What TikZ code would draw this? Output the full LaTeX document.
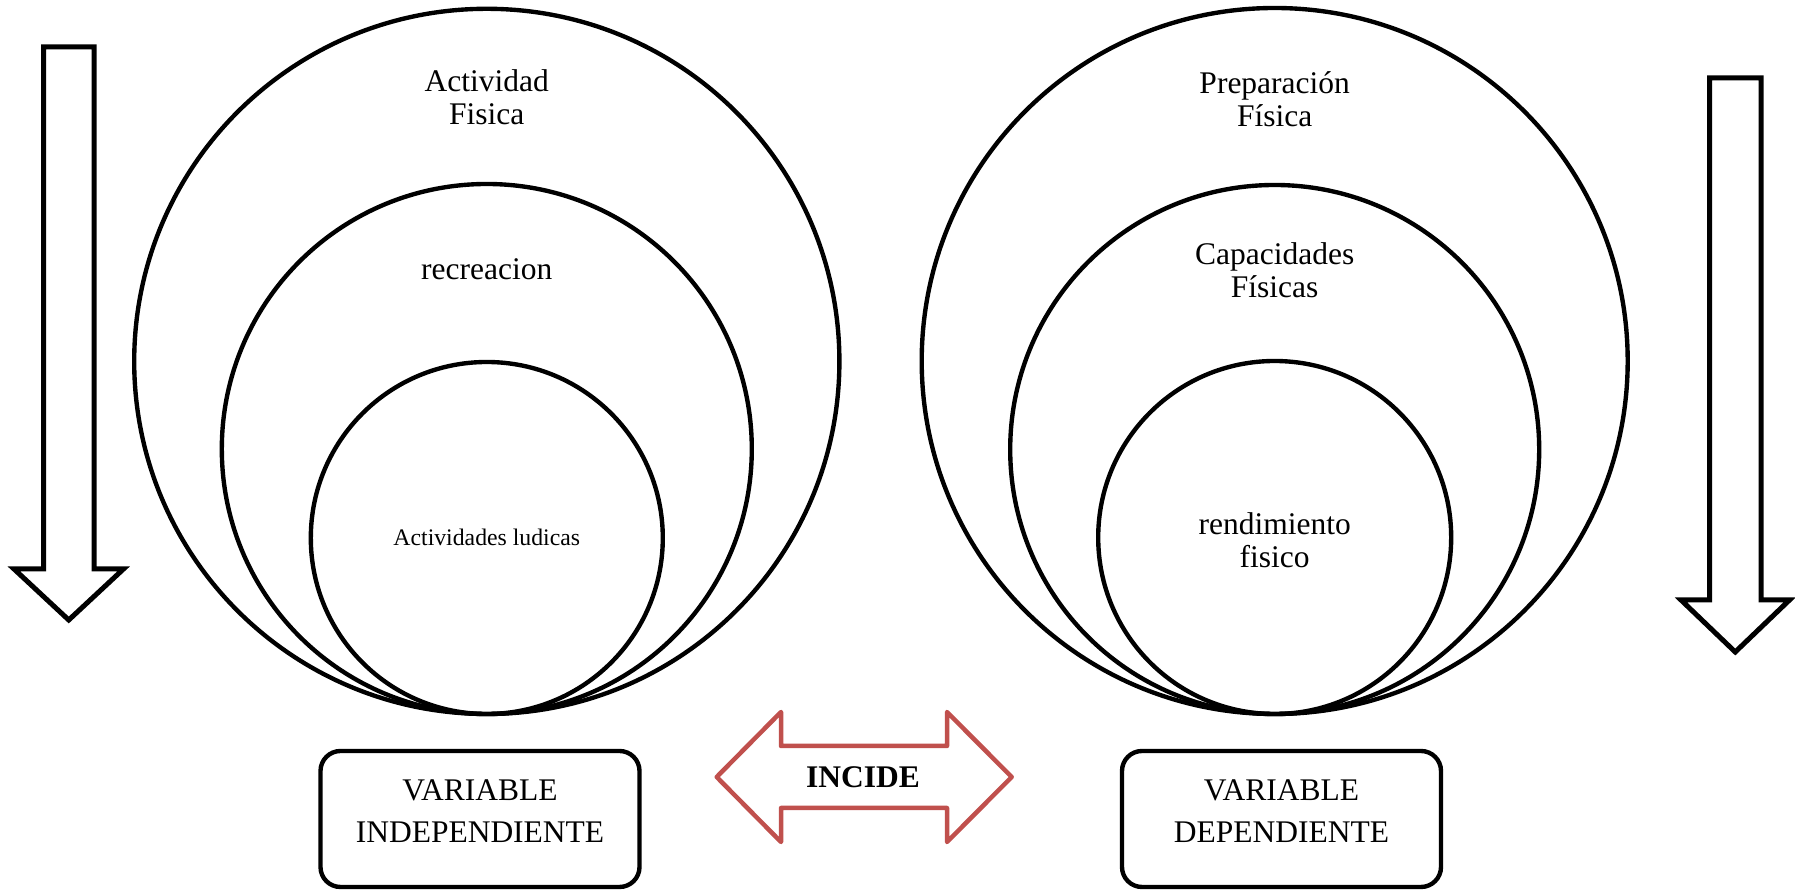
\documentclass[tikz,border=0pt]{standalone}
\usepackage{fontspec}
\setmainfont{Liberation Serif}
\usepackage{tikz}
\usetikzlibrary{positioning}
\definecolor{incidered}{HTML}{C0504D}
\tikzset{
  ring/.style={line width=1.75pt},
  blockarrow/.style={line width=2pt, fill=white},
  circletext/.style={font=\fontsize{12.6}{13.2}\selectfont, align=center, inner sep=0pt},
  varbox/.style={draw, line width=1.75pt, rounded corners=8pt, minimum width=127.6pt,
    minimum height=54.4pt, font=\fontsize{12.6}{16.8}\selectfont, align=center, text depth=6.4pt}
}

\begin{document}
\begin{tikzpicture}[x=0.4pt, y=-0.4pt]
\useasboundingbox (0,0) rectangle (1795,890);

% flechas verticales
\draw[blockarrow] (43.5,47) -- (94,47) -- (94,569) -- (123.5,569) -- (68.75,620)
    -- (14,569) -- (43.5,569) -- cycle;
\draw[blockarrow] (1709.5,78) -- (1761,78) -- (1761,600) -- (1789.5,600) -- (1735.25,652)
    -- (1681,600) -- (1709.5,600) -- cycle;

\begin{scope}
    % circulos de la variable independiente
    \draw[ring] (486.8,361.4) circle[radius=352.6];
    \draw[ring] (486.8,449) circle[radius=265];
    \draw[ring] (486.8,538) circle[radius=176];

    \node[circletext] (actividad) at (486.8,97) {Actividad\\Fisica};
    \node[circletext] (recreacion) at (486.8,269) {recreacion};
    \node[circletext, font=\fontsize{9.5}{11}\selectfont] (ludicas) at (486.8,537) {Actividades ludicas};
\end{scope}

\begin{scope}
    % circulos de la variable dependiente
    \draw[ring] (1274.7,361) circle[radius=353];
    \draw[ring] (1274.7,449.5) circle[radius=264.5];
    \draw[ring] (1274.7,537.5) circle[radius=176.5];

    \node[circletext] (preparacion) at (1274.7,99) {Preparación\\Física};
    \node[circletext] (capacidades) at (1274.7,270) {Capacidades\\Físicas};
    \node[circletext] (rendimiento) at (1274.7,540) {rendimiento\\fisico};
\end{scope}

% cajas de las variables
\node[varbox] (indep) at (480,819) {VARIABLE\\INDEPENDIENTE};
\node[varbox] (dep) at (1281.5,819) {VARIABLE\\DEPENDIENTE};

% flecha doble roja
\draw[incidered, line width=1.8pt, line join=round]
    (716.7,777) -- (781,712) -- (781,746) -- (947,746) -- (947,712) -- (1011.7,777)
    -- (947,842) -- (947,808) -- (781,808) -- (781,842) -- cycle;
\node[font=\fontsize{12.6}{13.2}\selectfont\bfseries] (incide) at (863,777) {INCIDE};
\end{tikzpicture}
\end{document}
